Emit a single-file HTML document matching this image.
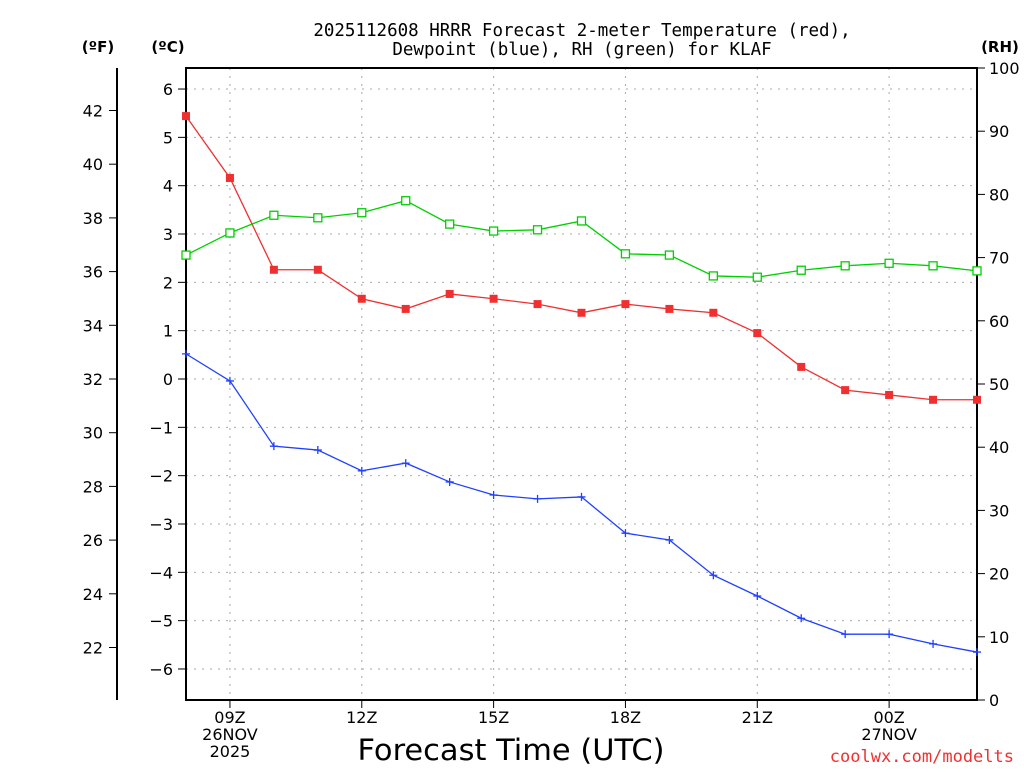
<!DOCTYPE html>
<html><head><meta charset="utf-8"><style>
body{margin:0;background:#fff;}
svg text{font-family:"DejaVu Sans","Liberation Sans",sans-serif;}
</style></head><body>
<svg id="chart" width="1024" height="768" xmlns="http://www.w3.org/2000/svg">
<text x="582" y="36" font-size="17.5" text-anchor="middle" style="font-family:'DejaVu Sans Mono',monospace">2025112608 HRRR Forecast 2-meter Temperature (red),</text>
<text x="582" y="55" font-size="17.5" text-anchor="middle" style="font-family:'DejaVu Sans Mono',monospace">Dewpoint (blue), RH (green) for KLAF</text>
<text x="98" y="52" font-size="15" font-weight="bold" text-anchor="middle">(ºF)</text>
<text x="168" y="52" font-size="15" font-weight="bold" text-anchor="middle">(ºC)</text>
<text x="1000" y="52" font-size="15" font-weight="bold" text-anchor="middle">(RH)</text>
<text x="511" y="760" font-size="29" text-anchor="middle" textLength="307" lengthAdjust="spacingAndGlyphs">Forecast Time (UTC)</text>
<text x="1014" y="762" font-size="17" fill="#f03030" text-anchor="end" style="font-family:'DejaVu Sans Mono',monospace">coolwx.com/modelts</text>
<g id="grid"></g><g id="axes"></g><g id="series"></g>
</svg>
<script>
const hours=["08","09","10","11","12","13","14","15","16","17","18","19","20","21","22","23","00","01","02"];
const tempC=[5.44,4.16,2.26,2.26,1.66,1.45,1.76,1.66,1.55,1.37,1.55,1.45,1.37,0.95,0.25,-0.23,-0.33,-0.43,-0.43];
const dewC=[0.52,-0.04,-1.39,-1.47,-1.9,-1.74,-2.13,-2.4,-2.48,-2.44,-3.19,-3.33,-4.06,-4.49,-4.95,-5.28,-5.28,-5.48,-5.65];
const rh=[70.4,73.9,76.7,76.3,77.1,79.0,75.3,74.2,74.4,75.8,70.6,70.4,67.1,66.9,68.0,68.7,69.1,68.7,67.9];
const cTicks=[6,5,4,3,2,1,0,-1,-2,-3,-4,-5,-6];
const fTicks=[42,40,38,36,34,32,30,28,26,24,22];
const rhTicks=[0,10,20,30,40,50,60,70,80,90,100];
const xLabels=[[1,"09Z","26NOV","2025"],[4,"12Z"],[7,"15Z"],[10,"18Z"],[13,"21Z"],[16,"00Z","27NOV"]];
const L=186,R=977,T=68,B=700;
const xs=i=>L+i*(R-L)/(hours.length-1);
const yC=c=>379-c*48.33;
const yF=f=>yC((f-32)/1.8);
const yR=r=>B-r*(B-T)/100;
const NS="http://www.w3.org/2000/svg";
function mk(parent,tag,at){const e=document.createElementNS(NS,tag);for(const k in at)e.setAttribute(k,at[k]);document.getElementById(parent).appendChild(e);return e;}
cTicks.forEach(c=>{const e=mk("grid","line",{x1:L,x2:R,y1:yC(c),y2:yC(c),stroke:"#aaa","stroke-dasharray":"2,6"});

});
xLabels.forEach(l=>{const e=mk("grid","line",{x1:xs(l[0]),x2:xs(l[0]),y1:T,y2:B,stroke:"#aaa","stroke-dasharray":"2,6"});

});
const fr=mk("axes","rect",{x:L,y:T,width:R-L,height:B-T,fill:"none",stroke:"#000","stroke-width":2});


const fa=mk("axes","line",{x1:117,x2:117,y1:T,y2:B,stroke:"#000","stroke-width":2});


cTicks.forEach(c=>{mk("axes","line",{x1:L-8,x2:L,y1:yC(c),y2:yC(c),stroke:"#000"});
const t=mk("axes","text",{x:L-13,y:yC(c)+6,"font-size":16,"text-anchor":"end"});t.textContent=c<0?"\u2212"+(-c):c;

});
fTicks.forEach(f=>{mk("axes","line",{x1:109,x2:117,y1:yF(f),y2:yF(f),stroke:"#000"});
const t=mk("axes","text",{x:103,y:yF(f)+6,"font-size":16,"text-anchor":"end"});t.textContent=f;

});
rhTicks.forEach(r=>{mk("axes","line",{x1:R,x2:R+8,y1:yR(r),y2:yR(r),stroke:"#000"});
const t=mk("axes","text",{x:R+12,y:yR(r)+6,"font-size":16});t.textContent=r;

});
xLabels.forEach(l=>{const x=xs(l[0]);mk("axes","line",{x1:x,x2:x,y1:B,y2:B+8,stroke:"#000"});
l.slice(1).forEach((s,j)=>{const t=mk("axes","text",{x:x,y:723+j*17,"font-size":16,"text-anchor":"middle"});t.textContent=s;

});});
function line(arr,yf,col,name){const p=mk("series","polyline",{points:arr.map((v,i)=>xs(i)+","+yf(v)).join(" "),fill:"none",stroke:col,"stroke-width":1.3});

}
line(tempC,yC,"#f03030","temperature");
line(dewC,yC,"#2040ff","dewpoint");
line(rh,yR,"#00d000","rh");
tempC.forEach((v,i)=>{const m=mk("series","rect",{x:xs(i)-4,y:yC(v)-4,width:8,height:8,fill:"#f03030"});

});
dewC.forEach((v,i)=>{const m=mk("series","path",{d:`M${xs(i)-4},${yC(v)}h8M${xs(i)},${yC(v)-4}v8`,stroke:"#2040ff","stroke-width":1.3});

});
rh.forEach((v,i)=>{const m=mk("series","rect",{x:xs(i)-4,y:yR(v)-4,width:8,height:8,fill:"#fff",stroke:"#00d000","stroke-width":1.3});

});
</script>
</body></html>
